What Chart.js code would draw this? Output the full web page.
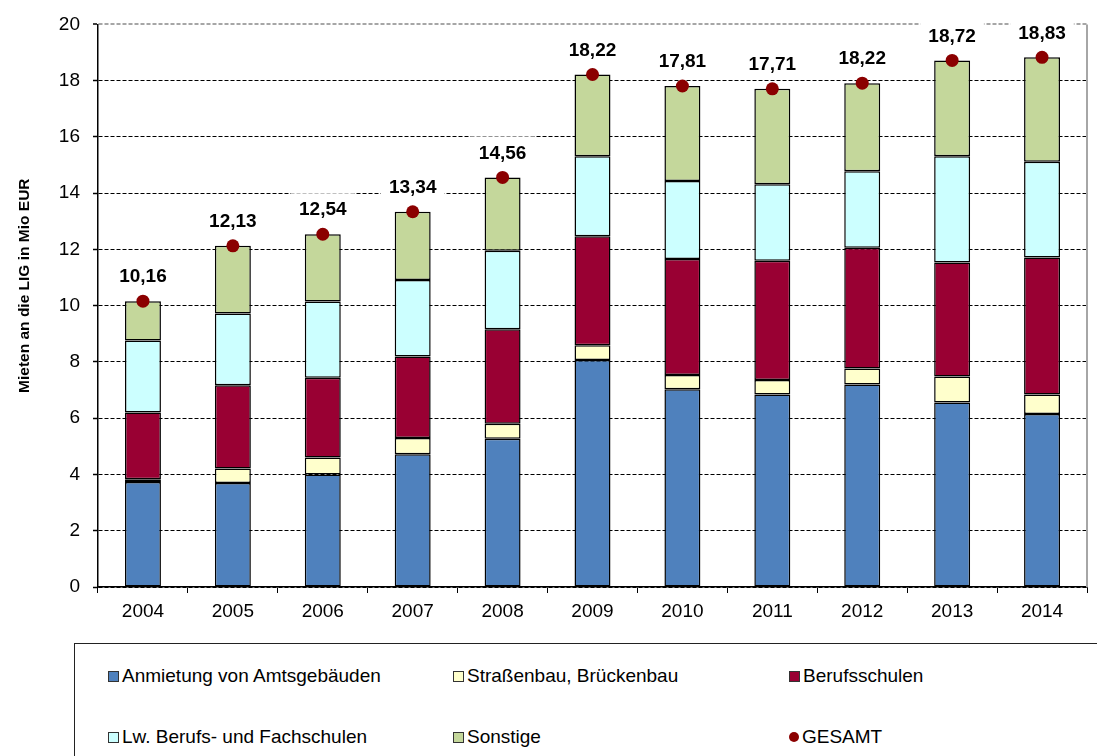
<!DOCTYPE html>
<html>
<head>
<meta charset="utf-8">
<script src="https://cdn.jsdelivr.net/npm/chart.js@4.4.1/dist/chart.umd.min.js"></script>
<style>
  html, body { margin: 0; padding: 0; background: #fff; }
  #wrap { position: relative; width: 1097px; height: 756px; overflow: hidden; font-family: "Liberation Sans", Arial, sans-serif; }
  #chartBox { position: absolute; left: 0; top: 0; width: 1097px; height: 640px; }
  #legend { position: absolute; left: 74px; top: 643px; width: 1100px; height: 140px; border: 1.5px solid #222; box-sizing: border-box; }
  .item { position: absolute; display: flex; align-items: center; height: 22px; font-size: 19px; color: #000; white-space: nowrap; }
  .mark { width: 9px; height: 9px; border: 1px solid #333; margin-right: 3px; }
  .dot { width: 10px; height: 10px; border-radius: 50%; margin-right: 3px; }
</style>
</head>
<body>
<div id="wrap">
  <div id="chartBox"><canvas id="chart"></canvas></div>
  <div id="legend"></div>
</div>
<script>
const years = ['2004', '2005', '2006', '2007', '2008', '2009', '2010', '2011', '2012', '2013', '2014'];

// Mio EUR
const anmietung     = [3.73, 3.70, 4.00, 4.72, 5.27, 8.07, 7.03, 6.84, 7.20, 6.56, 6.15];
const strassenbau   = [0.10, 0.51, 0.60, 0.58, 0.53, 0.52, 0.51, 0.52, 0.57, 0.92, 0.69];
const berufsschulen = [2.37, 2.96, 2.84, 2.89, 3.36, 3.88, 4.12, 4.24, 4.29, 4.06, 4.87];
const lwSchulen     = [2.56, 2.55, 2.71, 2.72, 2.79, 2.84, 2.77, 2.72, 2.72, 3.77, 3.41];
const sonstige      = [1.40, 2.41, 2.39, 2.43, 2.61, 2.91, 3.38, 3.39, 3.13, 3.41, 3.71];
const gesamt        = [10.16, 12.13, 12.54, 13.34, 14.56, 18.22, 17.81, 17.71, 17.91, 18.72, 18.83];
const gesamtLabels  = ['10,16', '12,13', '12,54', '13,34', '14,56', '18,22', '17,81', '17,71', '18,22', '18,72', '18,83'];

const yTicks = [0, 2, 4, 6, 8, 10, 12, 14, 16, 18, 20];
const yTitle = 'Mieten an die LIG in Mio EUR';

const FONT = '"Liberation Sans", Arial, sans-serif';

function barSet(label, data, color) {
  return {
    type: 'bar',
    label: label,
    data: data,
    backgroundColor: color,
    borderColor: '#000',
    borderWidth: 1.5,
    borderSkipped: false,
    stack: 'mieten',
    order: 1,
    barPercentage: 0.4,
    categoryPercentage: 1
  };
}

// value labels above the GESAMT points, white box cuts the grid lines
const totalLabels = {
  id: 'totalLabels',
  afterDatasetsDraw(chart) {
    const ctx = chart.ctx;
    const idx = chart.data.datasets.findIndex(d => d.type === 'line');
    const meta = chart.getDatasetMeta(idx);
    ctx.save();
    ctx.font = 'bold 19px ' + FONT;
    ctx.textAlign = 'center';
    ctx.textBaseline = 'middle';
    meta.data.forEach((pt, i) => {
      const txt = gesamtLabels[i];
      const w = ctx.measureText(txt).width;
      const cy = pt.y - 25;
      ctx.fillStyle = '#fff';
      ctx.fillRect(pt.x - w / 2 - 8, cy - 16, w + 16, 25);
      ctx.fillStyle = '#000';
      ctx.fillText(txt, pt.x, cy + 1);
    });
    ctx.restore();
  }
};

// grey frame line on the right of the plot area
const rightFrame = {
  id: 'rightFrame',
  beforeDatasetsDraw(chart) {
    const { ctx, chartArea } = chart;
    ctx.save();
    ctx.strokeStyle = '#a6a6a6';
    ctx.lineWidth = 2;
    ctx.beginPath();
    ctx.moveTo(chartArea.right, chartArea.top);
    ctx.lineTo(chartArea.right, chartArea.bottom);
    ctx.stroke();
    ctx.restore();
  }
};

// y axis title, sits a bit above the middle of the plot like in the original
const axisTitle = {
  id: 'axisTitle',
  afterDraw(chart) {
    const { ctx, chartArea } = chart;
    ctx.save();
    ctx.translate(25, (chartArea.top + chartArea.bottom) / 2 - 20);
    ctx.rotate(-Math.PI / 2);
    ctx.font = 'bold 15.5px ' + FONT;
    ctx.fillStyle = '#000';
    ctx.textAlign = 'center';
    ctx.textBaseline = 'middle';
    ctx.fillText(yTitle, 0, 0);
    ctx.restore();
  }
};

const chart = new Chart(document.getElementById('chart'), {
  data: {
    labels: years,
    datasets: [
      barSet('Anmietung von Amtsgebäuden', anmietung, '#4f81bd'),
      barSet('Straßenbau, Brückenbau', strassenbau, '#ffffcc'),
      barSet('Berufsschulen', berufsschulen, '#990033'),
      barSet('Lw. Berufs- und Fachschulen', lwSchulen, '#ccffff'),
      barSet('Sonstige', sonstige, '#c4d79b'),
      {
        type: 'line',
        label: 'GESAMT',
        data: gesamt,
        showLine: false,
        pointRadius: 6.5,
        pointBackgroundColor: '#8b0000',
        pointBorderColor: '#8b0000',
        pointBorderWidth: 0,
        backgroundColor: '#8b0000',
        borderColor: '#8b0000',
        stack: 'total',
        order: 0
      }
    ]
  },
  options: {
    responsive: true,
    maintainAspectRatio: false,
    animation: false,
    layout: { padding: { top: 23, right: 10, left: 0, bottom: 0 } },
    plugins: {
      legend: { display: false },
      tooltip: { enabled: false }
    },
    scales: {
      x: {
        stacked: true,
        offset: true,
        afterFit(scale) { scale.height = 53; },
        grid: {
          drawOnChartArea: false,
          drawTicks: true,
          tickLength: 6,
          color: '#000',
          offset: true
        },
        border: { display: true, color: '#000', width: 1.5 },
        ticks: {
          color: '#000',
          padding: 7,
          font: { family: FONT, size: 19 }
        }
      },
      y: {
        stacked: true,
        min: 0,
        max: 20,
        afterFit(scale) { scale.width = 98; },
        afterBuildTicks(scale) { scale.ticks = yTicks.map(v => ({ value: v })); },
        grid: {
          color: ctx => (ctx.tick && ctx.tick.value === 20) ? '#a6a6a6' : '#000',
          lineWidth: ctx => (ctx.tick && ctx.tick.value === 20) ? 2 : 1,
          drawTicks: true,
          tickLength: 5,
          tickColor: '#000',
          tickWidth: 1.5,
          tickBorderDash: []
        },
        border: { display: true, color: '#000', width: 1.5, dash: [4, 2] },
        ticks: {
          color: '#000',
          padding: 13,
          font: { family: FONT, size: 19 }
        }
      }
    }
  },
  plugins: [rightFrame, totalLabels, axisTitle]
});

// legend box, three columns in two rows
const legendPos = [[33, 21], [378, 21], [714, 21], [33, 82], [378, 82], [714, 82]];
const legendEl = document.getElementById('legend');
chart.data.datasets.forEach((ds, i) => {
  const item = document.createElement('div');
  item.className = 'item';
  item.style.left = legendPos[i][0] + 'px';
  item.style.top = legendPos[i][1] + 'px';
  const m = document.createElement('span');
  m.className = ds.type === 'line' ? 'dot' : 'mark';
  m.style.background = ds.backgroundColor;
  const t = document.createElement('span');
  t.textContent = ds.label;
  item.appendChild(m);
  item.appendChild(t);
  legendEl.appendChild(item);
});
</script>
</body>
</html>
